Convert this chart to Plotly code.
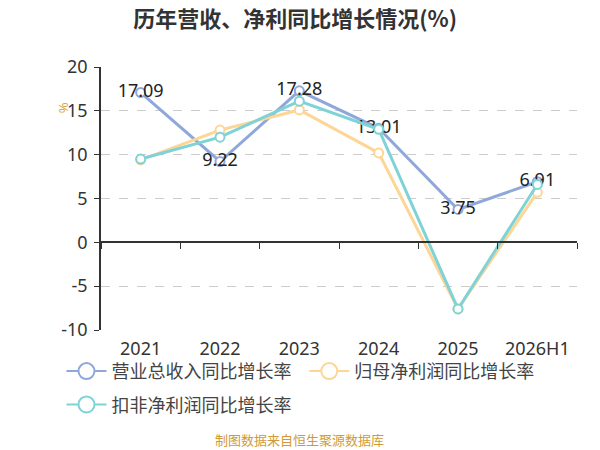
import plotly.graph_objects as go

years = ['2021', '2022', '2023', '2024', '2025', '2026H1']
revenue_growth = [17.09, 9.22, 17.28, 13.01, 3.75, 6.91]
netprofit_growth = [9.4, 12.8, 15.1, 10.2, -7.6, 5.7]
deducted_growth = [9.5, 12.0, 16.1, 12.9, -7.6, 6.6]
y_ticks = [-10, -5, 0, 5, 10, 15, 20]
y_ticktext = ['-10', '-5', '0', '5', '10', '15', '20']
series_names = ['营业总收入同比增长率', '归母净利润同比增长率', '扣非净利润同比增长率']

latin = 'Noto Sans, Noto Sans CJK SC, sans-serif'
cjk = 'Noto Sans CJK SC, sans-serif'
blue = '#8fa8dc'
yellow = '#fdd696'
teal = '#7fd3d6'
colors = [blue, yellow, teal]

fig = go.Figure()

fig.add_trace(go.Scatter(
    x=years, y=revenue_growth, name=series_names[0], showlegend=False,
    mode='lines+markers+text', text=[f'{v:.2f}' for v in revenue_growth],
    textposition='middle center', textfont=dict(size=18, color='#222'),
    line=dict(color=blue, width=3),
    marker=dict(symbol='circle', size=9, color='white', line=dict(color=blue, width=2)),
))
fig.add_trace(go.Scatter(
    x=years, y=netprofit_growth, name=series_names[1], showlegend=False,
    mode='lines+markers',
    line=dict(color=yellow, width=3),
    marker=dict(symbol='circle', size=9, color='white', line=dict(color=yellow, width=2)),
))
fig.add_trace(go.Scatter(
    x=years, y=deducted_growth, name=series_names[2], showlegend=False,
    mode='lines+markers',
    line=dict(color=teal, width=3),
    marker=dict(symbol='circle', size=9, color='white', line=dict(color=teal, width=2)),
))

# legend-only entries with the bigger hollow circles of the reference
legend_slots = [('legend', 'a'), ('legend2', 'c'), ('legend', 'b')]
for name, color, (lg, grp) in zip(series_names, colors, legend_slots):
    fig.add_trace(go.Scatter(
        x=[None], y=[None], name=name, mode='lines+markers',
        line=dict(color=color, width=2),
        marker=dict(symbol='circle', size=16, color='white', line=dict(color=color, width=2)),
        legend=lg, legendgroup=grp, hoverinfo='skip',
    ))

# empty trace so the tick axis drawn along y=0 exists
fig.add_trace(go.Scatter(x=years, y=[None] * len(years), xaxis='x2',
                         showlegend=False, hoverinfo='skip'))

legend_font = dict(size=18, color='#444', family=cjk)

fig.update_layout(
    width=592, height=442,
    margin=dict(l=93, r=23, t=59, b=120, autoexpand=False),
    paper_bgcolor='white', plot_bgcolor='white',
    font=dict(family=latin, color='#333'),
    title=dict(text='<b>历年营收、净利同比增长情况(%)</b>', x=0.485, xanchor='center',
               y=0.975, yanchor='middle', font=dict(size=22, color='#333', family=cjk)),
    xaxis=dict(type='category', showgrid=False, showline=False, ticks='',
               tickfont=dict(size=18, color='#333'), range=[-0.5, 5.5],
               ticklabelstandoff=6, automargin=False),
    xaxis2=dict(type='category', overlaying='x', anchor='free', position=1 / 3,
                showgrid=False, showline=True, linecolor='#333', linewidth=1.5,
                ticks='outside', tickson='boundaries', ticklen=6, tickcolor='#333',
                showticklabels=False, range=[-0.5, 5.5], automargin=False),
    yaxis=dict(range=[-10, 20], tickvals=y_ticks, ticktext=y_ticktext,
               showgrid=True, gridcolor='#cccccc',
               griddash='dash', zeroline=False, showline=True, linecolor='#333',
               linewidth=1.5, ticks='outside', ticklen=5, tickcolor='#333',
               tickfont=dict(size=18, color='#333'), ticklabelstandoff=3,
               automargin=False),
    legend=dict(orientation='v', x=-0.083, y=-0.087, xanchor='left', yanchor='top',
                font=legend_font, itemwidth=40, tracegroupgap=7,
                bgcolor='rgba(0,0,0,0)'),
    legend2=dict(orientation='v', x=0.427, y=-0.087, xanchor='left', yanchor='top',
                 font=legend_font, itemwidth=40, bgcolor='rgba(0,0,0,0)'),
    showlegend=True,
)

fig.add_annotation(text='%', textangle=-90, xref='paper', yref='paper',
                   x=-0.103, y=0.875, showarrow=False,
                   font=dict(size=13, color='#d9a441'))
fig.add_annotation(text='制图数据来自恒生聚源数据库', xref='paper', yref='paper',
                   x=0.418, y=-0.418, showarrow=False, xanchor='center', yanchor='middle',
                   font=dict(size=13, color='#d19a36', family=cjk))

fig.write_html('out.html')
